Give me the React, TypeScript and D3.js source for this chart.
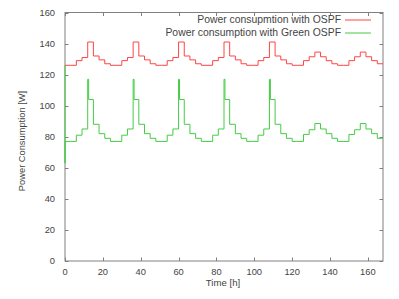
import { useEffect, useRef } from 'react';
import * as d3 from 'd3';

// time in hours, one point per 3h slot (step plot)
const ospfHours = [
  0, 3, 6, 9, 12, 15, 18, 21,
  24, 27, 30, 33, 36, 39, 42, 45,
  48, 51, 54, 57, 60, 63, 66, 69,
  72, 75, 78, 81, 84, 87, 90, 93,
  96, 99, 102, 105, 108, 111, 114, 117,
  120, 123, 126, 129, 132, 135, 138, 141,
  144, 147, 150, 153, 156, 159, 162, 165,
  168,
];
const ospfPower = [
  126, 126, 129, 131, 141, 132, 129.5, 127,
  126, 126, 129, 131, 141, 132, 129.5, 127,
  126, 126, 129, 131, 141, 132, 129.5, 127,
  126, 126, 129, 131, 141, 132, 129.5, 127,
  126, 126, 129, 131, 141, 132, 129.5, 127,
  126, 126, 129, 131.5, 134.5, 131.5, 129, 127,
  126, 126, 129, 131.5, 134.5, 131.5, 129, 127,
  127,
];

const greenHours = [
  0, 0, 0, 3, 6, 9, 12, 12.5, 15, 18, 21,
  24, 27, 30, 33, 36, 36.5, 39, 42, 45,
  48, 51, 54, 57, 60, 60.5, 63, 66, 69,
  72, 75, 78, 81, 84, 84.5, 87, 90, 93,
  96, 99, 102, 105, 108, 108.5, 111, 114, 117,
  120, 123, 126, 129, 132, 135, 138, 141,
  144, 147, 150, 153, 156, 159, 162, 165,
  168,
];
const greenPower = [
  126, 63, 77, 77, 81, 85, 117, 104, 88, 82, 79,
  77, 77, 81, 85, 117, 104, 88, 82, 79,
  77, 77, 81, 85, 117, 104, 88, 82, 79,
  77, 77, 81, 85, 117, 104, 88, 82, 79,
  77, 77, 81, 85, 117, 104, 88, 82, 79,
  77, 77, 81.5, 84.5, 88.5, 85, 82, 79,
  77, 77, 81.5, 84.5, 88.5, 85, 82, 79,
  79,
];

const xTicks = [0, 20, 40, 60, 80, 100, 120, 140, 160];
const yTicks = [0, 20, 40, 60, 80, 100, 120, 140, 160];

const seriesNames = ['Power consupmtion with OSPF', 'Power consumption with Green OSPF'];
const seriesColors = ['#ff4444', '#44cc44'];

const W = 399;
const H = 299;
const FONT = 'Liberation Sans, Arial, sans-serif';

export default function App() {
  const svgRef = useRef<SVGSVGElement>(null);

  useEffect(() => {
    if (!svgRef.current) return;
    const svg = d3.select(svgRef.current);
    svg.selectAll('*').remove();

    const left = 65, right = 383, top = 12.5, bottom = 261;
    const x = d3.scaleLinear().domain([0, 168]).range([left, right]);
    const y = d3.scaleLinear().domain([0, 160]).range([bottom, top]);

    svg.append('rect').attr('width', W).attr('height', H).attr('fill', '#fff');

    // frame
    svg.append('rect')
      .attr('x', left).attr('y', top)
      .attr('width', right - left).attr('height', bottom - top)
      .attr('fill', 'none').attr('stroke', '#808080').attr('stroke-width', 1);

    const tl = 3.5;
    const axisG = svg.append('g').attr('stroke', '#808080').attr('stroke-width', 1);
    xTicks.forEach(t => {
      const px = Math.round(x(t)) + 0.5;
      axisG.append('line').attr('x1', px).attr('x2', px).attr('y1', bottom).attr('y2', bottom - tl);
      axisG.append('line').attr('x1', px).attr('x2', px).attr('y1', top).attr('y2', top + tl);
    });
    yTicks.forEach(t => {
      const py = Math.round(y(t)) + 0.5;
      axisG.append('line').attr('x1', left).attr('x2', left + tl).attr('y1', py).attr('y2', py);
      axisG.append('line').attr('x1', right).attr('x2', right - tl).attr('y1', py).attr('y2', py);
    });

    // tick labels
    svg.append('g')
      .selectAll('text')
      .data(xTicks)
      .join('text')
      .attr('x', d => x(d))
      .attr('y', 275)
      .attr('text-anchor', 'middle')
      .attr('font-family', FONT)
      .attr('font-size', 9.3)
      .attr('fill', '#444')
      .text(d => d);

    svg.append('g')
      .selectAll('text')
      .data(yTicks)
      .join('text')
      .attr('x', 55)
      .attr('y', d => y(d) + 3.3)
      .attr('text-anchor', 'end')
      .attr('font-family', FONT)
      .attr('font-size', 9.3)
      .attr('fill', '#444')
      .text(d => d);

    // axis titles
    svg.append('text')
      .attr('x', 223).attr('y', 286)
      .attr('text-anchor', 'middle')
      .attr('font-family', FONT).attr('font-size', 9.6)
      .attr('fill', '#444')
      .text('Time [h]');

    svg.append('text')
      .attr('transform', 'translate(24.5,141) rotate(-90)')
      .attr('text-anchor', 'middle')
      .attr('font-family', FONT).attr('font-size', 9.3)
      .attr('fill', '#444')
      .text('Power Consumption [W]');

    // series
    const line = d3.line<[number, number]>()
      .x(d => x(d[0]))
      .y(d => y(d[1]))
      .curve(d3.curveStepAfter);

    const ospfData = ospfHours.map((h, i) => [h, ospfPower[i]] as [number, number]);
    const greenData = greenHours.map((h, i) => [h, greenPower[i]] as [number, number]);

    [ospfData, greenData].forEach((data, i) => {
      svg.append('path')
        .attr('d', line(data))
        .attr('fill', 'none')
        .attr('stroke', seriesColors[i])
        .attr('stroke-width', 1);
    });

    // legend
    seriesNames.forEach((name, i) => {
      const ly = 20 + i * 13;
      svg.append('text')
        .attr('x', 341).attr('y', ly + 3.2)
        .attr('text-anchor', 'end')
        .attr('font-family', FONT).attr('font-size', 10.4)
        .attr('fill', '#444')
        .text(name);
      svg.append('rect')
        .attr('x', 345).attr('y', ly - 0.5)
        .attr('width', 26).attr('height', 1)
        .attr('fill', seriesColors[i]);
    });
  }, []);

  return (
    <svg
      ref={svgRef}
      width={W}
      height={H}
      style={{ position: 'fixed', left: 0, top: 0, display: 'block' }}
    />
  );
}
